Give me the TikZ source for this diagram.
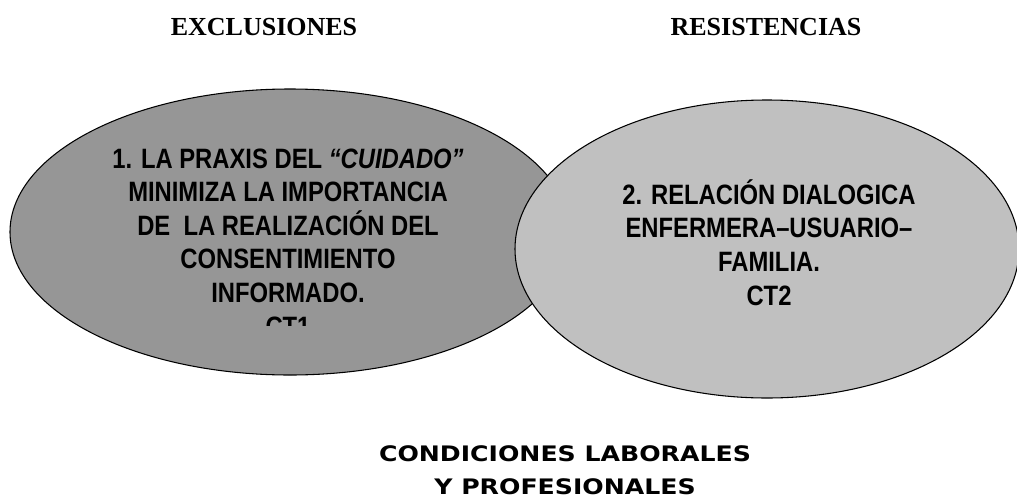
\documentclass[tikz,border=0pt]{standalone}
\usepackage{fontspec}
\setmainfont{Liberation Serif}
\newfontfamily\ovalfont[FakeStretch=0.85]{Liberation Sans}
\newfontfamily\piefont[FakeStretch=1.18]{DejaVu Sans}
\definecolor{grisoscuro}{RGB}{150,150,150}
\definecolor{grisclaro}{RGB}{192,192,192}
\begin{document}
\begin{tikzpicture}[x=.75pt,y=-.75pt,line join=round,
    titulo/.style={font=\bfseries\fontsize{19.5}{22}\selectfont,inner sep=0pt},
    texto/.style={font=\ovalfont\bfseries\fontsize{21}{25.2}\selectfont,align=center,
        inner sep=0pt,anchor=base},
    pie/.style={font=\piefont\bfseries\fontsize{16}{24.75}\selectfont,align=center,
        inner sep=0pt,anchor=base},
    ovalo/.style={draw=black,line width=.8pt}]
    \useasboundingbox (0,0) rectangle (1017,500);
    \node[titulo] (exclusiones) at (264,27) {EXCLUSIONES};
    \node[titulo] (resistencias) at (766,27) {RESISTENCIAS};
    \draw[ovalo,fill=grisoscuro] (290,232) ellipse [x radius=280,y radius=143];
    % el texto CT1 queda cortado por su caja
    \begin{scope}
        \clip (0,0) rectangle (1017,325);
        \node[texto] (ct1) at (288,336)
        {1. LA PRAXIS DEL \textit{“CUIDADO”}\\MINIMIZA LA IMPORTANCIA\\DE\ \ LA REALIZACIÓN DEL\\CONSENTIMIENTO\\INFORMADO.\\CT1};
    \end{scope}
    \draw[ovalo,fill=grisclaro] (767,249) ellipse [x radius=252,y radius=149];
    \node[texto] (ct2) at (769,305)
    {2. RELACIÓN DIALOGICA\\ENFERMERA–USUARIO–\\FAMILIA.\\CT2};
    \node[pie] (condiciones) at (565,494) {CONDICIONES LABORALES\\Y PROFESIONALES};
\end{tikzpicture}
\end{document}
